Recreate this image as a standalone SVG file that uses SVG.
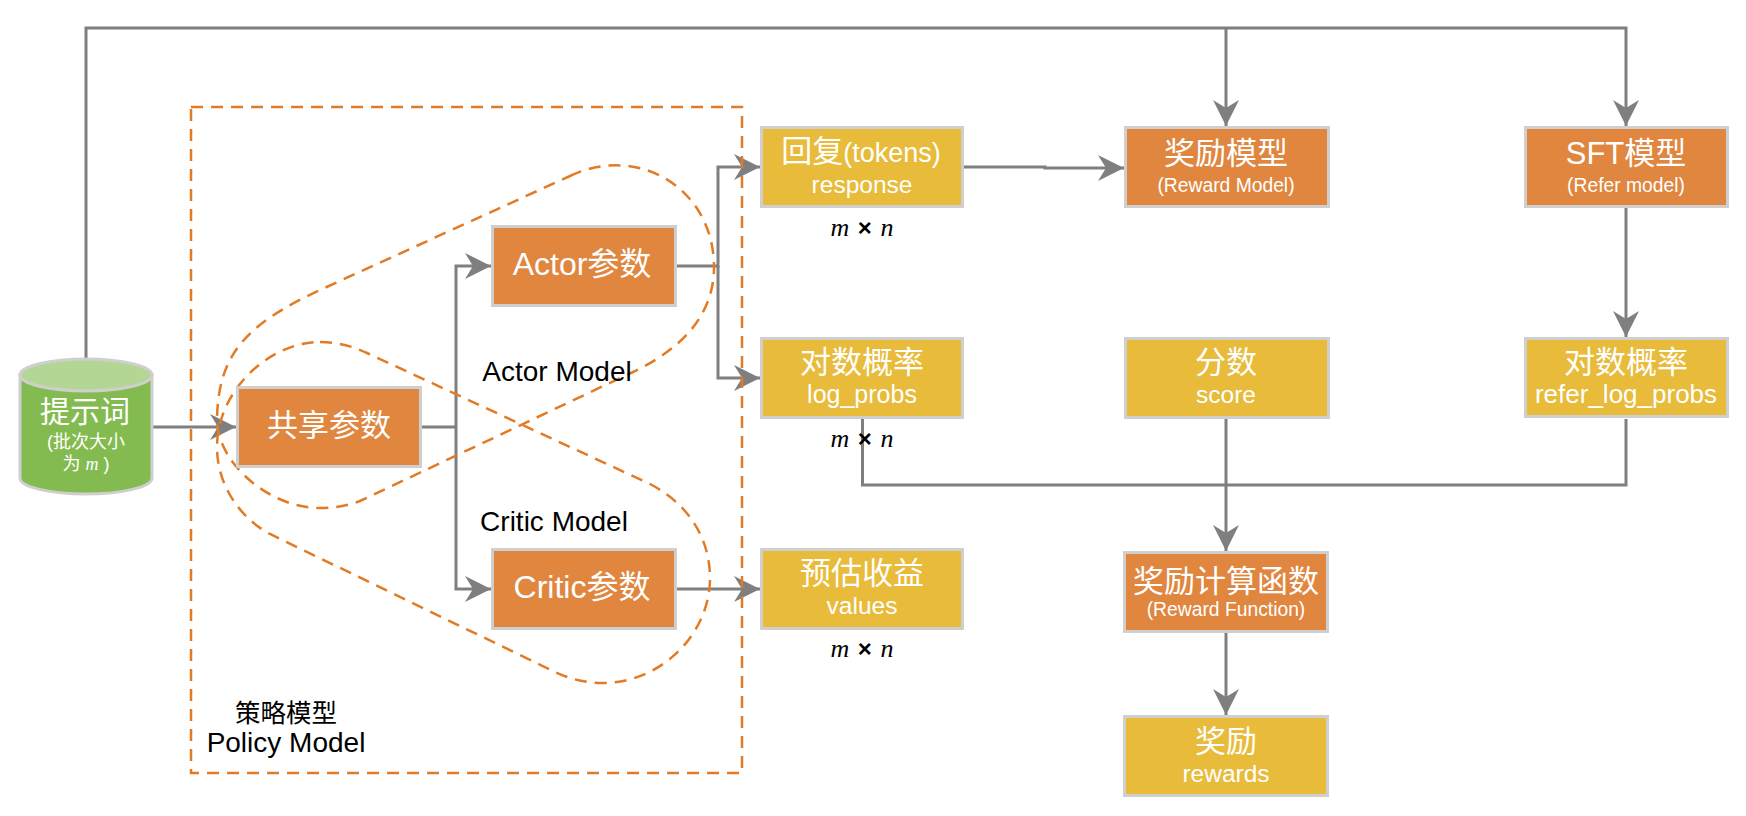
<svg xmlns="http://www.w3.org/2000/svg" width="1746" height="816" viewBox="0 0 1746 816">
<style>
text{font-family:"Liberation Sans","Noto Sans CJK SC",sans-serif;text-anchor:middle}
.o{fill:#E0863F;stroke:#CFCFCF;stroke-width:3}
.y{fill:#E8BB3B;stroke:#CFCFCF;stroke-width:3}
.t{fill:#fff;font-size:31px}
.s{fill:#fff;font-size:24.5px}
.r{fill:#fff;font-size:19.300px}
.k{fill:#000;font-size:28px}
.c path{fill:none;stroke:#7F7F7F;stroke-width:3;marker-end:url(#a)}
.c path.n{marker-end:none}
.d{fill:none;stroke:#E37B24;stroke-width:2.500;stroke-dasharray:12 8}
.m{fill:#000;font-size:24px;font-weight:bold;word-spacing:2px}
.m tspan{font-family:"Liberation Serif",serif;font-style:italic;font-weight:normal;font-size:26px}
</style>
<defs>
<marker id="a" markerUnits="userSpaceOnUse" markerWidth="26" markerHeight="26" refX="26" refY="13" orient="auto">
<path d="M0,0L26,13L0,26L8,13Z" fill="#7F7F7F"/>
</marker>
</defs>
<g id="connectors" class="c">
<path class="n" d="M86,358V28H1626V60"/>
<path d="M1626,60V126"/>
<path d="M1226,28V126"/>
<path d="M153,427H236"/>
<path class="n" d="M421,427H456"/>
<path d="M456,427V266H491"/>
<path d="M456,427V589H491"/>
<path d="M676,266H718V167H760"/>
<path d="M718,266V378H760"/>
<path d="M675,589H760"/>
<path d="M964,167H1045V168H1124"/>
<path d="M1626,208V337"/>
<path class="n" d="M862.500,419V485H1626V419"/>
<path d="M1226,419V551"/>
<path d="M1226,633V715"/>
</g>
<g id="policy-boundary">
<rect class="d" x="191" y="107" width="551" height="666"/>
<path id="actor-boundary" class="d" d="M570,176C640,143 714,190 714,267C714,320 675,352 633,372L360,501C347,506 335,508 320,508C270,508 220,465 217,423C217,355 245,325 320,290Z"/>
<path id="critic-boundary" class="d" d="M320,342C337,342 352,346 367,353L650,484C690,505 710,540 710,578C710,635 660,683 603,683C585,683 570,679 555,672L270,534C240,518 217,485 217,447C217,390 270,342 320,342Z"/>
</g>
<g id="prompt">
<path d="M20,375V478C20,487 50,494 86,494C122,494 152,487 152,478V375Z" fill="#84BB50" stroke="#CFCFCF" stroke-width="3"/>
<ellipse cx="86" cy="375" rx="66" ry="16" fill="#B4D695" stroke="#CFCFCF" stroke-width="3"/>
<text class="t" x="85" y="422" style="font-size:30px">提示词</text>
<text x="86" y="448" fill="#fff" font-size="18">(批次大小</text>
<text x="86" y="470" fill="#fff" font-size="18">为 <tspan font-family="Liberation Serif" font-style="italic">m</tspan> )</text>
</g>
<g id="shared">
<rect class="o" x="237.500" y="387.500" width="183" height="79"/>
<text class="t" x="329" y="436">共享参数</text>
</g>
<g id="actor">
<rect class="o" x="492.500" y="226.500" width="183" height="79"/>
<text class="t" x="582" y="275" style="font-size:32px">Actor参数</text>
</g>
<g id="critic">
<rect class="o" x="492.500" y="549.500" width="183" height="79"/>
<text class="t" x="582" y="598" style="font-size:32px">Critic参数</text>
</g>
<g id="response">
<rect class="y" x="761.500" y="127.500" width="201" height="79"/>
<text class="t" x="861" y="162"><tspan>回复</tspan><tspan style="font-size:27px">(tokens)</tspan></text>
<text class="s" x="862" y="193">response</text>
<text class="m" x="862" y="236"><tspan>m</tspan> × <tspan>n</tspan></text>
</g>
<g id="log-probs">
<rect class="y" x="761.500" y="338.500" width="201" height="79"/>
<text class="t" x="862" y="373">对数概率</text>
<text class="s" x="862" y="403" style="font-size:25px">log_probs</text>
<text class="m" x="862" y="447"><tspan>m</tspan> × <tspan>n</tspan></text>
</g>
<g id="values">
<rect class="y" x="761.500" y="549.500" width="201" height="79"/>
<text class="t" x="862" y="584">预估收益</text>
<text class="s" x="862" y="614">values</text>
<text class="m" x="862" y="657"><tspan>m</tspan> × <tspan>n</tspan></text>
</g>
<g id="reward-model">
<rect class="o" x="1125.500" y="127.500" width="203" height="79"/>
<text class="t" x="1226" y="164">奖励模型</text>
<text class="r" x="1226" y="192">(Reward Model)</text>
</g>
<g id="sft-model">
<rect class="o" x="1525.500" y="127.500" width="202" height="79"/>
<text class="t" x="1626" y="164">SFT模型</text>
<text class="r" x="1626" y="192">(Refer model)</text>
</g>
<g id="score">
<rect class="y" x="1125.500" y="338.500" width="203" height="79"/>
<text class="t" x="1226" y="373">分数</text>
<text class="s" x="1226" y="403">score</text>
</g>
<g id="refer-log-probs">
<rect class="y" x="1525.500" y="338.500" width="202" height="78"/>
<text class="t" x="1626" y="373">对数概率</text>
<text class="s" x="1626" y="403" style="font-size:26px">refer_log_probs</text>
</g>
<g id="reward-function">
<rect class="o" x="1124.500" y="552.500" width="203" height="79"/>
<text class="t" x="1226" y="592">奖励计算函数</text>
<text class="r" x="1226" y="616">(Reward Function)</text>
</g>
<g id="rewards">
<rect class="y" x="1124.500" y="716.500" width="203" height="79"/>
<text class="t" x="1226" y="752">奖励</text>
<text class="s" x="1226" y="782">rewards</text>
</g>
<g id="labels">
<text class="k" x="557" y="381">Actor Model</text>
<text class="k" x="554" y="531">Critic Model</text>
<text class="k" x="286" y="722" style="font-size:25.500px">策略模型</text>
<text class="k" x="286" y="752">Policy Model</text>
</g>
</svg>
